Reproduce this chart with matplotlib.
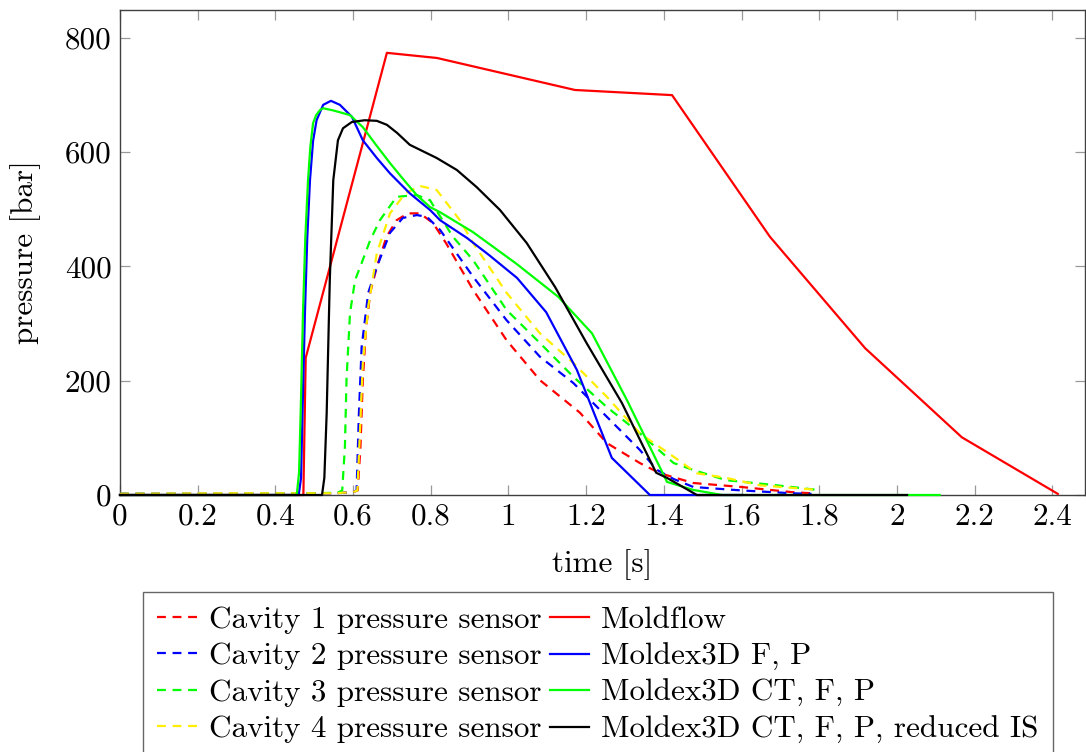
import matplotlib
matplotlib.use("Agg")
import matplotlib.pyplot as plt
from matplotlib.ticker import FixedLocator, FuncFormatter

plt.rcParams['font.family'] = ['cmr10', 'DejaVu Serif']
plt.rcParams['mathtext.fontset'] = 'cm'
plt.rcParams['axes.formatter.use_mathtext'] = True

# ---------------- data ----------------
cav1_t = [0, 0.3, 0.55, 0.60, 0.612, 0.619, 0.625, 0.633, 0.644, 0.661, 0.686, 0.712, 0.741, 0.772, 0.806, 0.84,
          0.909, 0.995, 1.081, 1.184, 1.253, 1.338, 1.39, 1.476, 1.60, 1.73, 1.78]
cav1_p = [2, 2, 3, 5, 8, 85, 201, 289, 354, 399, 452, 481, 493, 493, 476, 440,
          359, 271, 201, 144, 91, 56, 38, 21, 14, 5, 3]

cav2_t = [0, 0.3, 0.55, 0.60, 0.609, 0.615, 0.622, 0.639, 0.661, 0.695, 0.728, 0.764, 0.79, 0.824,
          0.909, 0.995, 1.081, 1.167, 1.253, 1.338, 1.382, 1.425, 1.476, 1.6, 1.73, 1.78]
cav2_p = [2, 2, 3, 5, 8, 143, 259, 354, 399, 459, 485, 490, 487, 464,
          382, 306, 242, 196, 137, 79, 44, 28, 14, 8, 3, 2]

cav3_t = [0, 0.3, 0.5, 0.56, 0.572, 0.579, 0.583, 0.592, 0.605, 0.622, 0.644, 0.669, 0.712, 0.764, 0.798, 0.857,
          0.909, 0.995, 1.081, 1.167, 1.253, 1.338, 1.425, 1.475, 1.56, 1.69, 1.794]
cav3_p = [2, 2, 3, 4, 8, 85, 201, 318, 376, 406, 446, 481, 522, 525, 516, 452,
          411, 324, 266, 207, 154, 108, 56, 44, 26, 17, 9]

cav4_t = [0, 0.3, 0.55, 0.60, 0.611, 0.616, 0.625, 0.639, 0.661, 0.695, 0.734, 0.772, 0.815, 0.875,
          0.909, 0.995, 1.081, 1.167, 1.253, 1.338, 1.425, 1.485, 1.56, 1.647, 1.794]
cav4_p = [2, 3, 3, 5, 8, 85, 231, 330, 423, 493, 528, 541, 534, 481,
          441, 354, 283, 231, 172, 108, 67, 38, 30, 17, 9]

moldflow_t = [0, 0.472, 0.478, 0.687, 0.816, 1.171, 1.421, 1.673, 1.918, 2.167, 2.414]
moldflow_p = [0, 0, 240, 774, 765, 709, 700, 452, 257, 101, 2]

mx_fp_t = [0, 0.46, 0.466, 0.470, 0.476, 0.482, 0.489, 0.497, 0.506, 0.523, 0.543, 0.566, 0.597, 0.625, 0.661,
           0.695, 0.746, 0.798, 0.824, 0.893, 0.95, 1.022, 1.097, 1.176, 1.266, 1.364, 1.6]
mx_fp_p = [0, 0, 30, 150, 318, 450, 551, 620, 656, 683, 690, 683, 662, 621, 590,
           563, 528, 499, 481, 450, 420, 380, 320, 219, 65, 0, 0]

mx_ctfp_t = [0, 0.455, 0.461, 0.466, 0.471, 0.477, 0.484, 0.49, 0.497, 0.505, 0.515, 0.523, 0.55, 0.592, 0.625,
             0.66, 0.695, 0.73, 0.764, 0.798, 0.824, 0.909, 1.02, 1.128, 1.215, 1.305, 1.408, 1.475, 1.55, 2.11]
mx_ctfp_p = [0, 0, 40, 170, 318, 450, 551, 610, 651, 665, 674, 677, 673, 665, 644,
             612, 581, 552, 525, 504, 495, 460, 405, 347, 283, 166, 23, 9, 0, 0]

mx_red_t = [0, 0.52, 0.526, 0.532, 0.540, 0.549, 0.561, 0.574, 0.597, 0.630, 0.661, 0.687, 0.713, 0.746, 0.815,
            0.867, 0.918, 0.978, 1.047, 1.12, 1.201, 1.292, 1.38, 1.408, 1.485, 2.026]
mx_red_p = [0, 0, 30, 143, 376, 551, 621, 642, 653, 656, 655, 648, 634, 613, 590,
            569, 539, 499, 441, 364, 266, 161, 39, 30, 0, 0]

x_ticks = [0, 0.2, 0.4, 0.6, 0.8, 1, 1.2, 1.4, 1.6, 1.8, 2, 2.2, 2.4]
y_ticks = [0, 200, 400, 600, 800]

labels = ["Cavity 1 pressure sensor", "Cavity 2 pressure sensor", "Cavity 3 pressure sensor",
          "Cavity 4 pressure sensor", "Moldflow", "Moldex3D F, P", "Moldex3D CT, F, P",
          "Moldex3D CT, F, P, reduced IS"]

# ---------------- figure ----------------
fig = plt.figure(figsize=(10.86, 7.52), dpi=100)
ax = fig.add_axes([120/1086, 1 - 495/752, 965/1086, 485/752])

fs = 22.4
lw = 1.6
dash = (0, (4.0, 3.0))
series = [
    (cav1_t, cav1_p, '#ff0000', dash),
    (cav2_t, cav2_p, '#0000ff', dash),
    (cav3_t, cav3_p, '#00ff00', dash),
    (cav4_t, cav4_p, '#ffee00', dash),
    (moldflow_t, moldflow_p, '#ff0000', '-'),
    (mx_fp_t, mx_fp_p, '#0000ff', '-'),
    (mx_ctfp_t, mx_ctfp_p, '#00ff00', '-'),
    (mx_red_t, mx_red_p, '#000000', '-'),
]
handles = []
for (t, p, c, ls), lab in zip(series, labels):
    h, = ax.plot(t, p, color=c, linestyle=ls, linewidth=lw, label=lab, zorder=3, clip_on=False)
    handles.append(h)

ax.set_xlim(0, 2.484)
ax.set_ylim(0, 849)
ax.xaxis.set_major_locator(FixedLocator(x_ticks))
ax.yaxis.set_major_locator(FixedLocator(y_ticks))
ax.xaxis.set_major_formatter(FuncFormatter(lambda v, pos: f"{v:g}"))
ax.yaxis.set_major_formatter(FuncFormatter(lambda v, pos: f"{v:g}"))
ax.tick_params(axis='both', which='major', direction='in', length=7, width=0.9,
               color='#999999', labelsize=fs, top=True, right=True, pad=6)
for s in ax.spines.values():
    s.set_color('#404040')
    s.set_linewidth(1.0)

ax.set_xlabel("time [s]", fontsize=fs, labelpad=13)
ax.set_ylabel("pressure [bar]", fontsize=fs, labelpad=17)

leg = fig.legend(handles=handles, labels=labels, ncol=2, loc='upper center',
                 bbox_to_anchor=(598/1086, 1 - 592/752), fontsize=fs,
                 handlelength=1.28, handletextpad=0.38, columnspacing=0.25,
                 labelspacing=0.28, borderpad=0.45, borderaxespad=0,
                 frameon=True, fancybox=False, edgecolor='#404040')
leg.get_frame().set_linewidth(1.0)

fig.savefig("out.png", dpi=100)
